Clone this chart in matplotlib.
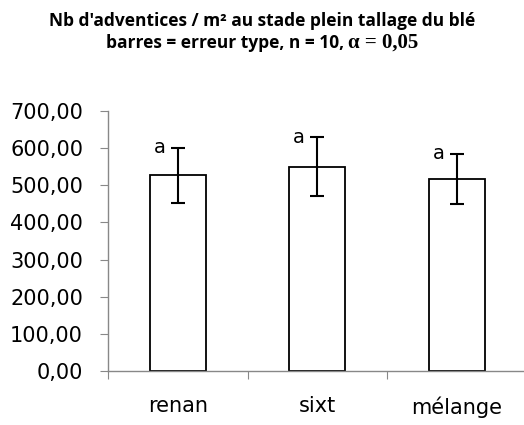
import matplotlib.pyplot as plt
import matplotlib.ticker as mticker

varietes = ["renan", "sixt", "mélange"]
moyennes = [527, 550, 517]
erreurs = [74, 79, 68]
lettres = ["a", "a", "a"]
yticks = [0, 100, 200, 300, 400, 500, 600, 700]

fig = plt.figure(figsize=(5.24, 4.25), dpi=100)
ax = fig.add_axes([108 / 524, 1 - 371 / 425, (526.5 - 108) / 524, 260 / 425])

x = range(len(varietes))
ax.bar(x, moyennes, width=0.4, color="white", edgecolor="black", linewidth=1.3, zorder=2)
ax.errorbar(x, moyennes, yerr=erreurs, fmt="none", ecolor="black", elinewidth=1.5,
            capsize=5, capthick=1.5, zorder=3)

for i, (m, e, l) in enumerate(zip(moyennes, erreurs, lettres)):
    ax.text(i - 0.13, m + e, l, ha="center", va="center", fontsize=14, family="DejaVu Sans")

ax.set_xlim(-0.5, 2.5)
ax.set_ylim(0, 700)
ax.set_yticks(yticks)
ax.yaxis.set_major_formatter(mticker.FuncFormatter(lambda v, p: f"{v:.2f}".replace(".", ",")))
ax.set_xticks([-0.5, 0.5, 1.5], minor=False)
ax.set_xticklabels([])
ax.set_xticks(list(x), minor=True)
ax.set_xticklabels(varietes, minor=True)
ax.tick_params(axis="x", which="minor", length=0, pad=18, labelsize=15)
ax.tick_params(axis="x", which="major", length=6, color="#888888", direction="out")
ax.tick_params(axis="y", length=6, color="#888888", labelsize=15, pad=12)

for s in ["top", "right"]:
    ax.spines[s].set_visible(False)
for s in ["left", "bottom"]:
    ax.spines[s].set_color("#888888")
    ax.spines[s].set_linewidth(1.0)

fig.text(0.5, 1 - 21 / 425, "Nb d'adventices / m² au stade plein tallage du blé",
         ha="center", va="center", fontsize=12.5, fontweight="bold", family="Open Sans")
t1 = fig.text(0.5, 1 - 43 / 425, "barres = erreur type, n = 10, ",
              ha="center", va="center", fontsize=12.5, fontweight="bold", family="Open Sans")
t2 = fig.text(0.5, 1 - 43 / 425, "α = 0,05", ha="left", va="center",
              fontsize=15, fontweight="bold", family="Liberation Serif")
fig.canvas.draw()
w1 = t1.get_window_extent().width
w2 = t2.get_window_extent().width
left = (524 - w1 - w2) / 2
t1.set_ha("left")
t1.set_x(left / 524)
t2.set_x((left + w1) / 524)

fig.savefig("out.png", dpi=100)
